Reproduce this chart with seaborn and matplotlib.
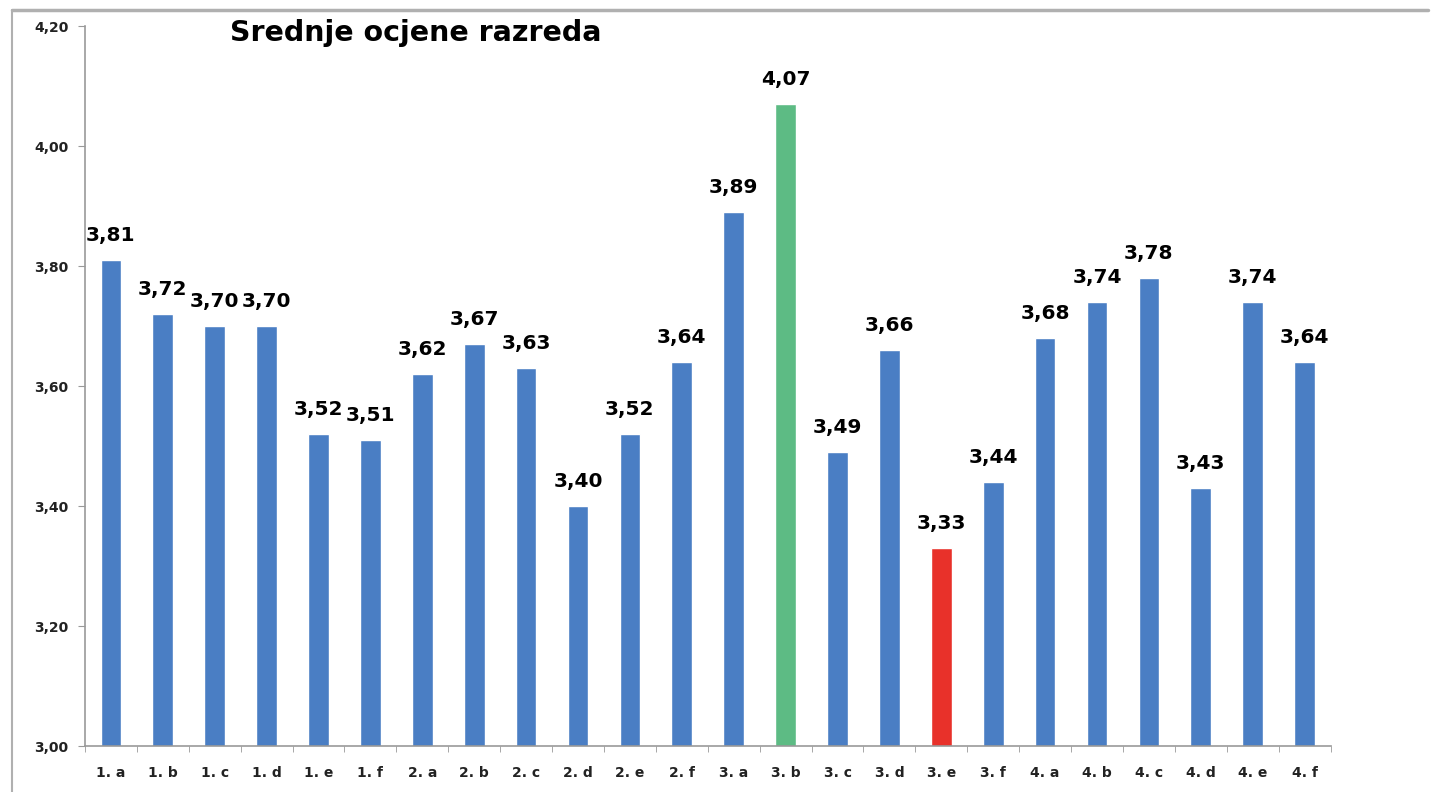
import numpy as np
import pandas as pd
import seaborn as sns
import matplotlib.pyplot as plt
from matplotlib.lines import Line2D
from matplotlib.ticker import FuncFormatter, FixedLocator

razredi = ["1.a", "1.b", "1.c", "1.d", "1.e", "1.f",
           "2.a", "2.b", "2.c", "2.d", "2.e", "2.f",
           "3.a", "3.b", "3.c", "3.d", "3.e", "3.f",
           "4.a", "4.b", "4.c", "4.d", "4.e", "4.f"]
ocjene = [3.81, 3.72, 3.70, 3.70, 3.52, 3.51,
          3.62, 3.67, 3.63, 3.40, 3.52, 3.64,
          3.89, 4.07, 3.49, 3.66, 3.33, 3.44,
          3.68, 3.74, 3.78, 3.43, 3.74, 3.64]
y_ticks = [3.00, 3.20, 3.40, 3.60, 3.80, 4.00, 4.20]

blue, green, red = "#4A7EC4", "#5DBB84", "#E8312A"
boje = {}
for r, v in zip(razredi, ocjene):
    if v == max(ocjene):
        boje[r] = green
    elif v == min(ocjene):
        boje[r] = red
    else:
        boje[r] = blue

df = pd.DataFrame({"razred": razredi, "ocjena": ocjene})

sns.set_style("white")
plt.rcParams['font.family'] = ['DejaVu Sans']

fig = plt.figure(figsize=(14.4, 7.92), dpi=100)
ax = fig.add_axes([0.059, 0.058, 0.865, 0.909])

sns.barplot(data=df, x="razred", y="ocjena", hue="razred", palette=boje,
            legend=False, width=0.4, saturation=1, ax=ax)

ax.set_ylim(3.0, 4.2)
ax.set_xlim(-0.5, len(razredi) - 0.5)
ax.yaxis.set_major_locator(FixedLocator(y_ticks))
ax.yaxis.set_major_formatter(FuncFormatter(lambda v, p: f"{v:.2f}".replace(".", ",")))

for c in ax.containers:
    ax.bar_label(c, labels=[f"{v:.2f}".replace(".", ",") for v in c.datavalues],
                 padding=11, fontsize=14.5, fontweight='bold', color='black')

ax.set_xlabel("")
ax.set_ylabel("")
ax.set_xticks(range(len(razredi)))
ax.set_xticklabels([r.replace(".", ". ") for r in razredi], fontsize=10,
                   fontweight='bold', color='#222222')
for lbl in ax.get_yticklabels():
    lbl.set_fontsize(10)
    lbl.set_fontweight('bold')
    lbl.set_color('#222222')

# category separators on the x axis
ax.set_xticks(np.arange(-0.5, len(razredi), 1), minor=True)
ax.tick_params(axis='x', which='major', length=0, pad=14)
ax.tick_params(axis='x', which='minor', length=4, color='#999999', direction='out', bottom=True)
ax.tick_params(axis='y', which='major', length=5, color='#999999', direction='out', left=True, pad=7)

for s in ["top", "right"]:
    ax.spines[s].set_visible(False)
for s in ["left", "bottom"]:
    ax.spines[s].set_color('#999999')
    ax.spines[s].set_linewidth(1.2)

fig.text(0.16, 0.958, "Srednje ocjene razreda", fontsize=20.5, fontweight='bold',
         color='black', ha='left', va='center')

# outer frame lines (top and left)
fig.add_artist(Line2D([0.008, 0.992], [0.987, 0.987], color='#b0b0b0', lw=2.5,
                      transform=fig.transFigure))
fig.add_artist(Line2D([0.0085, 0.0085], [0.0, 0.987], color='#b0b0b0', lw=1.5,
                      transform=fig.transFigure))

fig.savefig("out.png", dpi=100)
